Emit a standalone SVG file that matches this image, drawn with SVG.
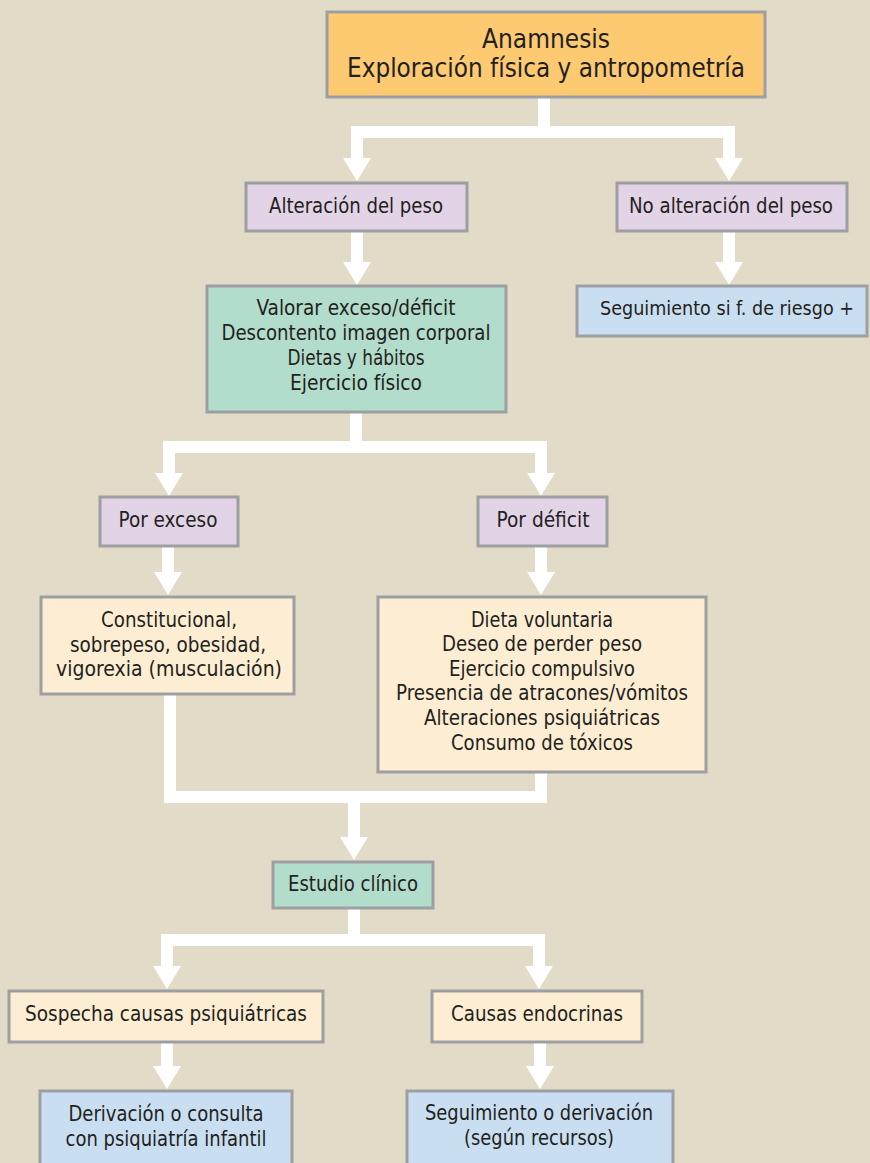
<svg xmlns="http://www.w3.org/2000/svg" width="870" height="1163" viewBox="0 0 870 1163">
<style>
.box{stroke:#9d9fa2;stroke-width:3}
.or{fill:#fdca72}.pu{fill:#e2d3e6}.gr{fill:#b2dccb}.cr{fill:#fdeed3}.bl{fill:#c9def1}
text{font-family:"Liberation Sans Narrow","DejaVu Sans Condensed","Liberation Sans",sans-serif;font-size:21px;fill:#231f20;text-anchor:middle}
.big{font-size:27px}
.sm{font-size:20px}
.con{fill:none;stroke:#ffffff;stroke-width:12;stroke-linejoin:miter;stroke-linecap:butt}
.arr{marker-end:url(#ah)}
.arr2{marker-start:url(#ah);marker-end:url(#ah)}
</style>
<defs>
<marker id="ah" markerUnits="userSpaceOnUse" markerWidth="24" markerHeight="28" refX="0" refY="14" orient="auto-start-reverse" overflow="visible">
<path d="M0,0 L23,14 L0,28 Z" fill="#ffffff"/>
</marker>
</defs>
<rect width="870" height="1163" fill="#e2dbc8"/>
<g id="connectors">
<path class="con" d="M544,97 V133"/>
<path class="con arr2" d="M357,158 V132 H729 V158"/>
<path class="con arr" d="M357,231 V262"/>
<path class="con arr" d="M729,231 V262"/>
<path class="con" d="M356,412 V448"/>
<path class="con arr2" d="M169,473 V447 H541 V473"/>
<path class="con arr" d="M168,546 V572"/>
<path class="con arr" d="M541,546 V572"/>
<path class="con" d="M170,694 V797 H541 V772"/>
<path class="con arr" d="M354,797 V837"/>
<path class="con" d="M354,908 V941"/>
<path class="con arr2" d="M167,966 V940 H539 V966"/>
<path class="con arr" d="M167,1042 V1066"/>
<path class="con arr" d="M540,1042 V1066"/>
</g>
<g id="n-anamnesis">
<rect class="box or" x="327" y="12" width="438" height="85"/>
<text class="big" x="546" y="48" textLength="128" lengthAdjust="spacingAndGlyphs">Anamnesis</text>
<text class="big" x="546" y="77" textLength="398" lengthAdjust="spacingAndGlyphs">Exploración física y antropometría</text>
</g>
<g id="n-alteracion">
<rect class="box pu" x="246" y="183" width="221" height="48"/>
<text x="356" y="213" textLength="174" lengthAdjust="spacingAndGlyphs">Alteración del peso</text>
</g>
<g id="n-noalteracion">
<rect class="box pu" x="617" y="183" width="230" height="48"/>
<text x="731" y="213" textLength="204" lengthAdjust="spacingAndGlyphs">No alteración del peso</text>
</g>
<g id="n-seguimiento-riesgo">
<rect class="box bl" x="577" y="286" width="290" height="50"/>
<text class="sm" x="727" y="315" textLength="254" lengthAdjust="spacingAndGlyphs">Seguimiento si f. de riesgo +</text>
</g>
<g id="n-valorar">
<rect class="box gr" x="207" y="286" width="299" height="126"/>
<text x="356" y="315" textLength="199" lengthAdjust="spacingAndGlyphs">Valorar exceso/déficit</text>
<text x="356" y="340" textLength="269" lengthAdjust="spacingAndGlyphs">Descontento imagen corporal</text>
<text x="356" y="365" textLength="137" lengthAdjust="spacingAndGlyphs">Dietas y hábitos</text>
<text x="356" y="390" textLength="132" lengthAdjust="spacingAndGlyphs">Ejercicio físico</text>
</g>
<g id="n-exceso">
<rect class="box pu" x="100" y="497" width="138" height="49"/>
<text x="168" y="527" textLength="99" lengthAdjust="spacingAndGlyphs">Por exceso</text>
</g>
<g id="n-deficit">
<rect class="box pu" x="478" y="497" width="129" height="49"/>
<text x="543" y="527" textLength="93" lengthAdjust="spacingAndGlyphs">Por déficit</text>
</g>
<g id="n-constitucional">
<rect class="box cr" x="41" y="597" width="253" height="97"/>
<text x="169" y="627" textLength="136" lengthAdjust="spacingAndGlyphs">Constitucional,</text>
<text x="168" y="652" textLength="196" lengthAdjust="spacingAndGlyphs">sobrepeso, obesidad,</text>
<text x="169" y="676" textLength="226" lengthAdjust="spacingAndGlyphs">vigorexia (musculación)</text>
</g>
<g id="n-dieta">
<rect class="box cr" x="378" y="597" width="328" height="175"/>
<text x="542" y="627" textLength="142" lengthAdjust="spacingAndGlyphs">Dieta voluntaria</text>
<text x="542" y="651" textLength="200" lengthAdjust="spacingAndGlyphs">Deseo de perder peso</text>
<text x="542" y="676" textLength="186" lengthAdjust="spacingAndGlyphs">Ejercicio compulsivo</text>
<text x="542" y="700" textLength="292" lengthAdjust="spacingAndGlyphs">Presencia de atracones/vómitos</text>
<text x="542" y="725" textLength="236" lengthAdjust="spacingAndGlyphs">Alteraciones psiquiátricas</text>
<text x="542" y="750" textLength="182" lengthAdjust="spacingAndGlyphs">Consumo de tóxicos</text>
</g>
<g id="n-estudio">
<rect class="box gr" x="273" y="862" width="160" height="46"/>
<text x="353" y="891" textLength="130" lengthAdjust="spacingAndGlyphs">Estudio clínico</text>
</g>
<g id="n-sospecha">
<rect class="box cr" x="9" y="991" width="314" height="51"/>
<text x="166" y="1021" textLength="282" lengthAdjust="spacingAndGlyphs">Sospecha causas psiquiátricas</text>
</g>
<g id="n-endocrinas">
<rect class="box cr" x="432" y="991" width="210" height="51"/>
<text x="537" y="1021" textLength="172" lengthAdjust="spacingAndGlyphs">Causas endocrinas</text>
</g>
<g id="n-derivacion">
<rect class="box bl" x="40" y="1091" width="252" height="80"/>
<text x="166" y="1121" textLength="195" lengthAdjust="spacingAndGlyphs">Derivación o consulta</text>
<text x="166" y="1146" textLength="201" lengthAdjust="spacingAndGlyphs">con psiquiatría infantil</text>
</g>
<g id="n-seguimiento-derivacion">
<rect class="box bl" x="407" y="1091" width="266" height="80"/>
<text x="539" y="1120" textLength="228" lengthAdjust="spacingAndGlyphs">Seguimiento o derivación</text>
<text x="539" y="1145" textLength="150" lengthAdjust="spacingAndGlyphs">(según recursos)</text>
</g>
</svg>
